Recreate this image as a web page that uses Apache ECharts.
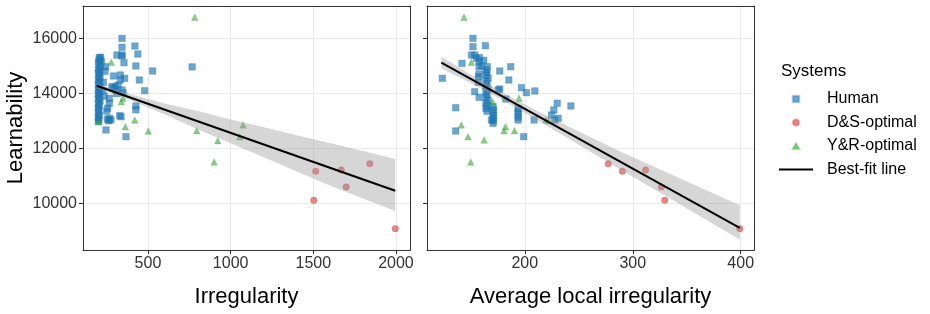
<!DOCTYPE html>
<html>
<head>
<meta charset="utf-8">
<script src="https://cdn.jsdelivr.net/npm/echarts@6/dist/echarts.min.js"></script>
<style>
html,body{margin:0;padding:0;background:#fff;}
#chart{width:930px;height:314px;}
</style>
</head>
<body>
<div id="chart"></div>
<script>
// ---------- data ----------
const irrTicks = [500, 1000, 1500, 2000];
const localTicks = [200, 300, 400];
const yTicks = [10000, 12000, 14000, 16000];

// Left panel: Irregularity vs Learnability
const humanIrr = [
  [343,15999],[343,15673],[343,15393],[312,15393],[421,15720],[439,15429],[355,15113],[343,15357],
  [528,14811],[767,14960],[427,14993],[448,14484],[480,14095],[292,14629],[333,14666],[359,14545],
  [333,14484],[282,14240],[306,14120],[343,14120],[266,13818],[266,13636],[256,13455],[276,13030],
  [268,13090],[337,13150],[329,13187],[427,13538],[427,13400],[246,12666],[367,12422],[244,14969],
  [218,15150],[214,15308],[205,15300],[210,15220],[200,15150],[205,15050],[212,14950],[200,14880],
  [208,14800],[200,14720],[205,14640],[210,14560],[200,14480],[206,14400],[200,14320],[210,14250],
  [203,14170],[200,14100],[208,14030],[200,13950],[205,13870],[200,13800],[210,13720],[200,13640],
  [205,13560],[200,13470],[203,13380],[200,13290],[205,13200],[200,13120],[203,13040],[200,12970],
  [230,14400],[225,14100],[235,13900],[250,13350],[255,13060],[262,13000],[240,14800],[300,14250],
  [320,14300],[350,14020],[290,14180],[310,13990]
];
const dsIrr = [[1515,11163],[1669,11211],[1842,11442],[1699,10593],[1503,10108],[1996,9078]];
const yrIrr = [
  [783,16763],[278,15126],[349,13817],[339,13696],[202,12969],[420,13030],[1075,12848],
  [363,12787],[795,12642],[502,12630],[1055,12424],[922,12278],[900,11502]
];
const fitIrrX = [190, 1996];
const fitIrrY = [14277, 10459];
const bandIrrX = [190, 400, 600, 813, 1000, 1200, 1400, 1600, 1800, 1996];
const bandIrrLow = [14187, 13733, 13240, 12660, 12185, 11672, 11159, 10646, 10174, 9719];
const bandIrrHigh = [14367, 13953, 13630, 13340, 13045, 12762, 12479, 12196, 11904, 11611];

// Right panel: Average local irregularity vs Learnability
const humanLocal = [
  [152,16000],[152,15695],[163.5,15731],[150.6,15393],[153.6,15393],[155.2,15273],[157.6,15150],
  [157.6,14969],[165.4,14967],[141.8,15090],[123.6,14545],[176.8,14811],[187,14967],[185.2,14484],
  [164,14847],[165,14750],[164,14650],[166,14550],[164,14450],[165,14350],[164,14250],[166,14150],
  [164,14050],[165,13950],[164,13850],[166,13750],[164,13650],[165,13550],[164,13450],[165,13350],
  [176.8,14157],[175.3,14120],[196.9,14204],[201.5,14022],[209.3,14084],[153.6,14060],[157.6,13855],
  [182.4,13793],[136,13477],[136,12630],[199,12422],[170.6,13513],[171,13400],[170.6,13300],
  [171,13200],[170.6,13100],[171,13000],[170.6,12909],[169.1,13030],[193.8,13454],[193.8,13350],
  [193.8,13250],[193.8,13130],[193.8,13030],[226.9,13393],[230,13637],[227.8,13030],[208.6,13030],
  [242.7,13539],[224.7,13212],[230.9,13090],[157,14600],[160,15000],[162,15200],[158,15300],
  [157.6,14700],[157,14400]
];
const dsLocal = [[277.3,11442],[290.3,11163],[311.9,11211],[326.5,10593],[329.6,10108],[399.1,9078]];
const yrLocal = [
  [143.7,16763],[150.5,15126],[194.7,13817],[170,13696],[219.5,13030],[222,13000],[141.2,12848],
  [182.1,12787],[180.8,12642],[190.4,12642],[147.4,12424],[162.3,12302],[149.9,11502]
];
const fitLocalX = [122.7, 399.1];
const fitLocalY = [15120, 9110];
const bandLocalX = [122.7, 150, 180, 214, 250, 290, 325, 360, 399.1];
const bandLocalLow = [14910, 14366, 13734, 12965, 12132, 11193, 10392, 9581, 8680];
const bandLocalHigh = [15330, 14686, 14014, 13315, 12612, 11853, 11242, 10621, 9930];

// ---------- chart ----------
const chart = echarts.init(document.getElementById('chart'), null, {renderer: 'canvas'});
const FONT = 'Liberation Sans, Arial, Helvetica, sans-serif';
const BORDER = '#333333';
const GRIDC = '#ebebeb';
const TICKTXT = '#333333';

function pairs(xs, ys) { return xs.map((x, i) => [x, ys[i]]); }
function plain(v) { return String(v); }

function bandSeries(xs, lo, hi, gi) {
  return {
    type: 'custom',
    xAxisIndex: gi, yAxisIndex: gi,
    z: 3, silent: true,
    data: xs.map((x, i) => [x, lo[i], hi[i]]),
    renderItem: function (params, api) {
      if (params.dataIndex !== 0) return null;
      const pts = [];
      for (let i = 0; i < xs.length; i++) pts.push(api.coord([xs[i], hi[i]]));
      for (let i = xs.length - 1; i >= 0; i--) pts.push(api.coord([xs[i], lo[i]]));
      return {type: 'polygon', shape: {points: pts}, style: {fill: 'rgba(153,153,153,0.4)'}};
    },
    encode: {x: 0, y: [1, 2]}
  };
}

const humanStyle = {color: 'rgba(31,119,180,0.82)', borderColor: 'rgba(31,119,180,0.4)', borderWidth: 1};
const dsStyle = {color: 'rgba(214,39,40,0.7)', borderColor: 'rgba(214,39,40,0.3)', borderWidth: 1};
const yrStyle = {color: 'rgba(44,160,44,0.7)', borderColor: 'rgba(44,160,44,0.3)', borderWidth: 1};

function scatter(name, data, gi, symbol, size, style) {
  return {type: 'scatter', name, data, xAxisIndex: gi, yAxisIndex: gi, symbol, symbolSize: size,
    itemStyle: style, z: 2, silent: true, animation: false};
}
function fitLine(xs, ys, gi) {
  return {type: 'line', name: 'Best-fit line', data: pairs(xs, ys), xAxisIndex: gi, yAxisIndex: gi,
    symbol: 'none', showSymbol: false, lineStyle: {color: '#000', width: 2}, itemStyle: {color: '#000'},
    z: 4, silent: true, animation: false};
}

const triPath = 'path://M5,0L10,8.66L0,8.66Z';
const sqPath = 'path://M0,0H10V10H0Z';
const linePath = 'path://M0,0H34V2H0Z';

function mainX(gi, min, max, ticks, split) {
  return {
    type: 'value', gridIndex: gi, min, max, splitNumber: split,
    axisLine: {show: true, lineStyle: {color: BORDER, width: 1}},
    axisTick: {show: true, length: 4, lineStyle: {color: BORDER}, customValues: ticks},
    axisLabel: {customValues: ticks, formatter: plain, fontSize: 16, fontFamily: FONT, color: TICKTXT, margin: 6},
    splitLine: {show: true, lineStyle: {color: GRIDC, width: 1}}
  };
}
function mainY(gi, showLabel) {
  return {
    type: 'value', gridIndex: gi, min: 8302, max: 17175,
    axisLine: {show: true, lineStyle: {color: BORDER, width: 1}},
    axisTick: {show: true, length: 4, lineStyle: {color: BORDER}, customValues: yTicks},
    axisLabel: {show: showLabel, customValues: yTicks, formatter: plain, fontSize: 16, fontFamily: FONT, color: TICKTXT, margin: 6},
    splitLine: {show: true, lineStyle: {color: GRIDC, width: 1}}
  };
}
function frameX(gi, min, max) {
  return {type: 'value', gridIndex: gi, position: 'top', min, max,
    axisLine: {show: true, lineStyle: {color: BORDER, width: 1}},
    axisTick: {show: false}, axisLabel: {show: false}, splitLine: {show: false}};
}
function frameY(gi) {
  return {type: 'value', gridIndex: gi, position: 'right', min: 8302, max: 17175,
    axisLine: {show: true, lineStyle: {color: BORDER, width: 1}},
    axisTick: {show: false}, axisLabel: {show: false}, splitLine: {show: false}};
}

const option = {
  animation: false,
  backgroundColor: '#fff',
  textStyle: {fontFamily: FONT},
  grid: [
    {left: 83, top: 6, width: 327, height: 244},
    {left: 427, top: 6, width: 327, height: 244}
  ],
  xAxis: [
    mainX(0, 107, 2085, irrTicks, 4),
    mainX(1, 109.4, 412.3, localTicks, 3),
    frameX(0, 107, 2085),
    frameX(1, 109.4, 412.3)
  ],
  yAxis: [
    mainY(0, true),
    mainY(1, false),
    frameY(0),
    frameY(1)
  ],
  legend: {
    orient: 'vertical', left: 779, top: 91, padding: 0,
    itemWidth: 34, itemHeight: 6.5, itemGap: 7.5,
    selectedMode: false,
    textStyle: {fontSize: 16, fontFamily: FONT, color: '#000', padding: [0, 0, 0, 9]},
    data: [
      {name: 'Human', icon: sqPath},
      {name: 'D&S-optimal', icon: 'circle'},
      {name: 'Y&R-optimal', icon: triPath},
      {name: 'Best-fit line', icon: linePath}
    ]
  },
  graphic: [
    {type: 'text', left: 781, top: 63, style: {text: 'Systems', fontSize: 17, fontFamily: FONT, fill: '#000'}},
    {type: 'text', x: 246.5, y: 297, style: {text: 'Irregularity', fontSize: 22, fontFamily: FONT, fill: '#000', align: 'center', verticalAlign: 'middle'}},
    {type: 'text', x: 590.5, y: 297, style: {text: 'Average local irregularity', fontSize: 22, fontFamily: FONT, fill: '#000', align: 'center', verticalAlign: 'middle'}},
    {type: 'text', x: 16, y: 128, rotation: Math.PI / 2, style: {text: 'Learnability', fontSize: 22, fontFamily: FONT, fill: '#000', align: 'center', verticalAlign: 'middle'}}
  ],
  series: [
    scatter('Human', humanIrr, 0, 'rect', 6.5, humanStyle),
    scatter('D&S-optimal', dsIrr, 0, 'circle', 6.5, dsStyle),
    scatter('Y&R-optimal', yrIrr, 0, 'triangle', 6.5, yrStyle),
    bandSeries(bandIrrX, bandIrrLow, bandIrrHigh, 0),
    fitLine(fitIrrX, fitIrrY, 0),
    scatter('Human', humanLocal, 1, 'rect', 6.5, humanStyle),
    scatter('D&S-optimal', dsLocal, 1, 'circle', 6.5, dsStyle),
    scatter('Y&R-optimal', yrLocal, 1, 'triangle', 6.5, yrStyle),
    bandSeries(bandLocalX, bandLocalLow, bandLocalHigh, 1),
    fitLine(fitLocalX, fitLocalY, 1)
  ]
};
chart.setOption(option);
</script>
</body>
</html>
